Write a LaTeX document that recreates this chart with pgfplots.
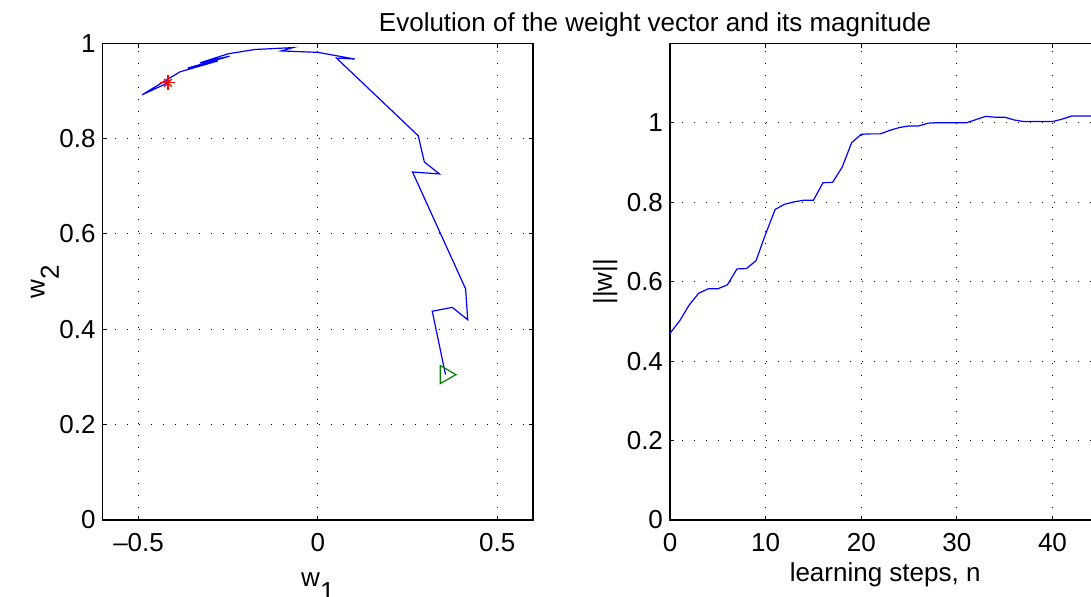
\documentclass[border=0pt]{standalone}
\usepackage{fontspec}
\setmainfont{Liberation Sans}
\usepackage{pgfplots}
\pgfplotsset{compat=1.18}

\definecolor{mblue}{rgb}{0,0,1}
\definecolor{mgreen}{rgb}{0,0.5,0}
\definecolor{mred}{rgb}{1,0,0}
\newcommand{\fnt}{\fontsize{13}{15}\selectfont}

\pgfplotsset{
  mstyle/.style={
    scale only axis,
    anchor=south west,
    width=215.15pt, height=238.35pt,
    axis line style={line width=0.7pt, black},
    tick align=inside,
    major tick length=2.2pt,
    tick style={black, line width=0.5pt},
    grid=major,
    major grid style={black, line width=0.5pt, dash pattern=on 0.5pt off 5.5pt},
    /pgf/number format/assume math mode=true,
    ticklabel style={font=\fnt},
    label style={font=\fnt},
    xticklabel style={yshift=-3pt},
    ytick={0,0.2,0.4,0.6,0.8,1},
    xlabel style={at={(axis description cs:0.5,0)}, anchor=base},
    ylabel style={at={(axis description cs:-0.135,0.5)}, anchor=base, rotate=0},
  }
}

\pgfplotstableread{
w1 w2
0.356 0.305
0.319 0.438
0.375 0.446
0.418 0.420
0.412 0.485
0.264 0.730
0.339 0.726
0.297 0.751
0.280 0.806
0.052 0.969
0.103 0.967
0.000 0.981
-0.102 0.984
-0.069 0.991
-0.176 0.987
-0.250 0.978
-0.329 0.959
-0.246 0.973
-0.363 0.948
-0.279 0.963
-0.385 0.940
-0.490 0.892
-0.418 0.917
}\trajtable

\pgfplotstableread{
n norm
0 0.470
1 0.501
2 0.541
3 0.571
4 0.582
5 0.582
6 0.592
7 0.632
8 0.633
9 0.653
10 0.720
11 0.782
12 0.795
13 0.801
14 0.805
15 0.805
16 0.849
17 0.850
18 0.888
19 0.950
20 0.971
21 0.972
22 0.972
23 0.981
24 0.988
25 0.992
26 0.992
27 0.999
28 1.000
29 1.000
30 1.000
31 1.000
32 1.008
33 1.016
34 1.014
35 1.014
36 1.007
37 1.003
38 1.003
39 1.003
40 1.003
41 1.009
42 1.017
43 1.017
44 1.017
45 1.017
}\normtable

\begin{document}
\begin{tikzpicture}
\clip (0,0) rectangle (545.5pt,298pt);
\begin{axis}[mstyle,
  at={(51.35pt,38pt)},
  xmin=-0.6, xmax=0.6, ymin=0, ymax=1,
  xtick={-0.5,0,0.5},
  xticklabels={\textendash0.5,0,0.5},
  xlabel={w\raisebox{-0.55em}{1}},
  ylabel={w\raisebox{-0.55em}{2}},
  xlabel style={yshift=-33pt},
]
\addplot[mblue, line width=0.6pt, no markers] table[x=w1,y=w2] {\trajtable};
\addplot[mgreen, line width=0.6pt, only marks, mark=triangle, mark size=5.2pt, mark options={rotate=-90}] coordinates {(0.356,0.305)};
\addplot[mred, line width=0.6pt, only marks, mark=+, mark size=3.75pt] coordinates {(-0.418,0.917)};
\addplot[mred, line width=0.6pt, only marks, mark=x, mark size=2.7pt] coordinates {(-0.418,0.917)};
\end{axis}
\begin{axis}[mstyle,
  at={(335pt,38pt)},
  xmin=0, xmax=45, ymin=0, ymax=1.2,
  xtick={0,10,20,30,40},
  xlabel={learning steps, n},
  ylabel={||w||},
  xlabel style={yshift=-30.85pt},
]
\addplot[mblue, line width=0.6pt, no markers] table[x=n,y=norm] {\normtable};
\end{axis}
\node[anchor=base, font=\fnt] at (327.5pt,282.2pt) {Evolution of the weight vector and its magnitude};
\end{tikzpicture}
\end{document}
